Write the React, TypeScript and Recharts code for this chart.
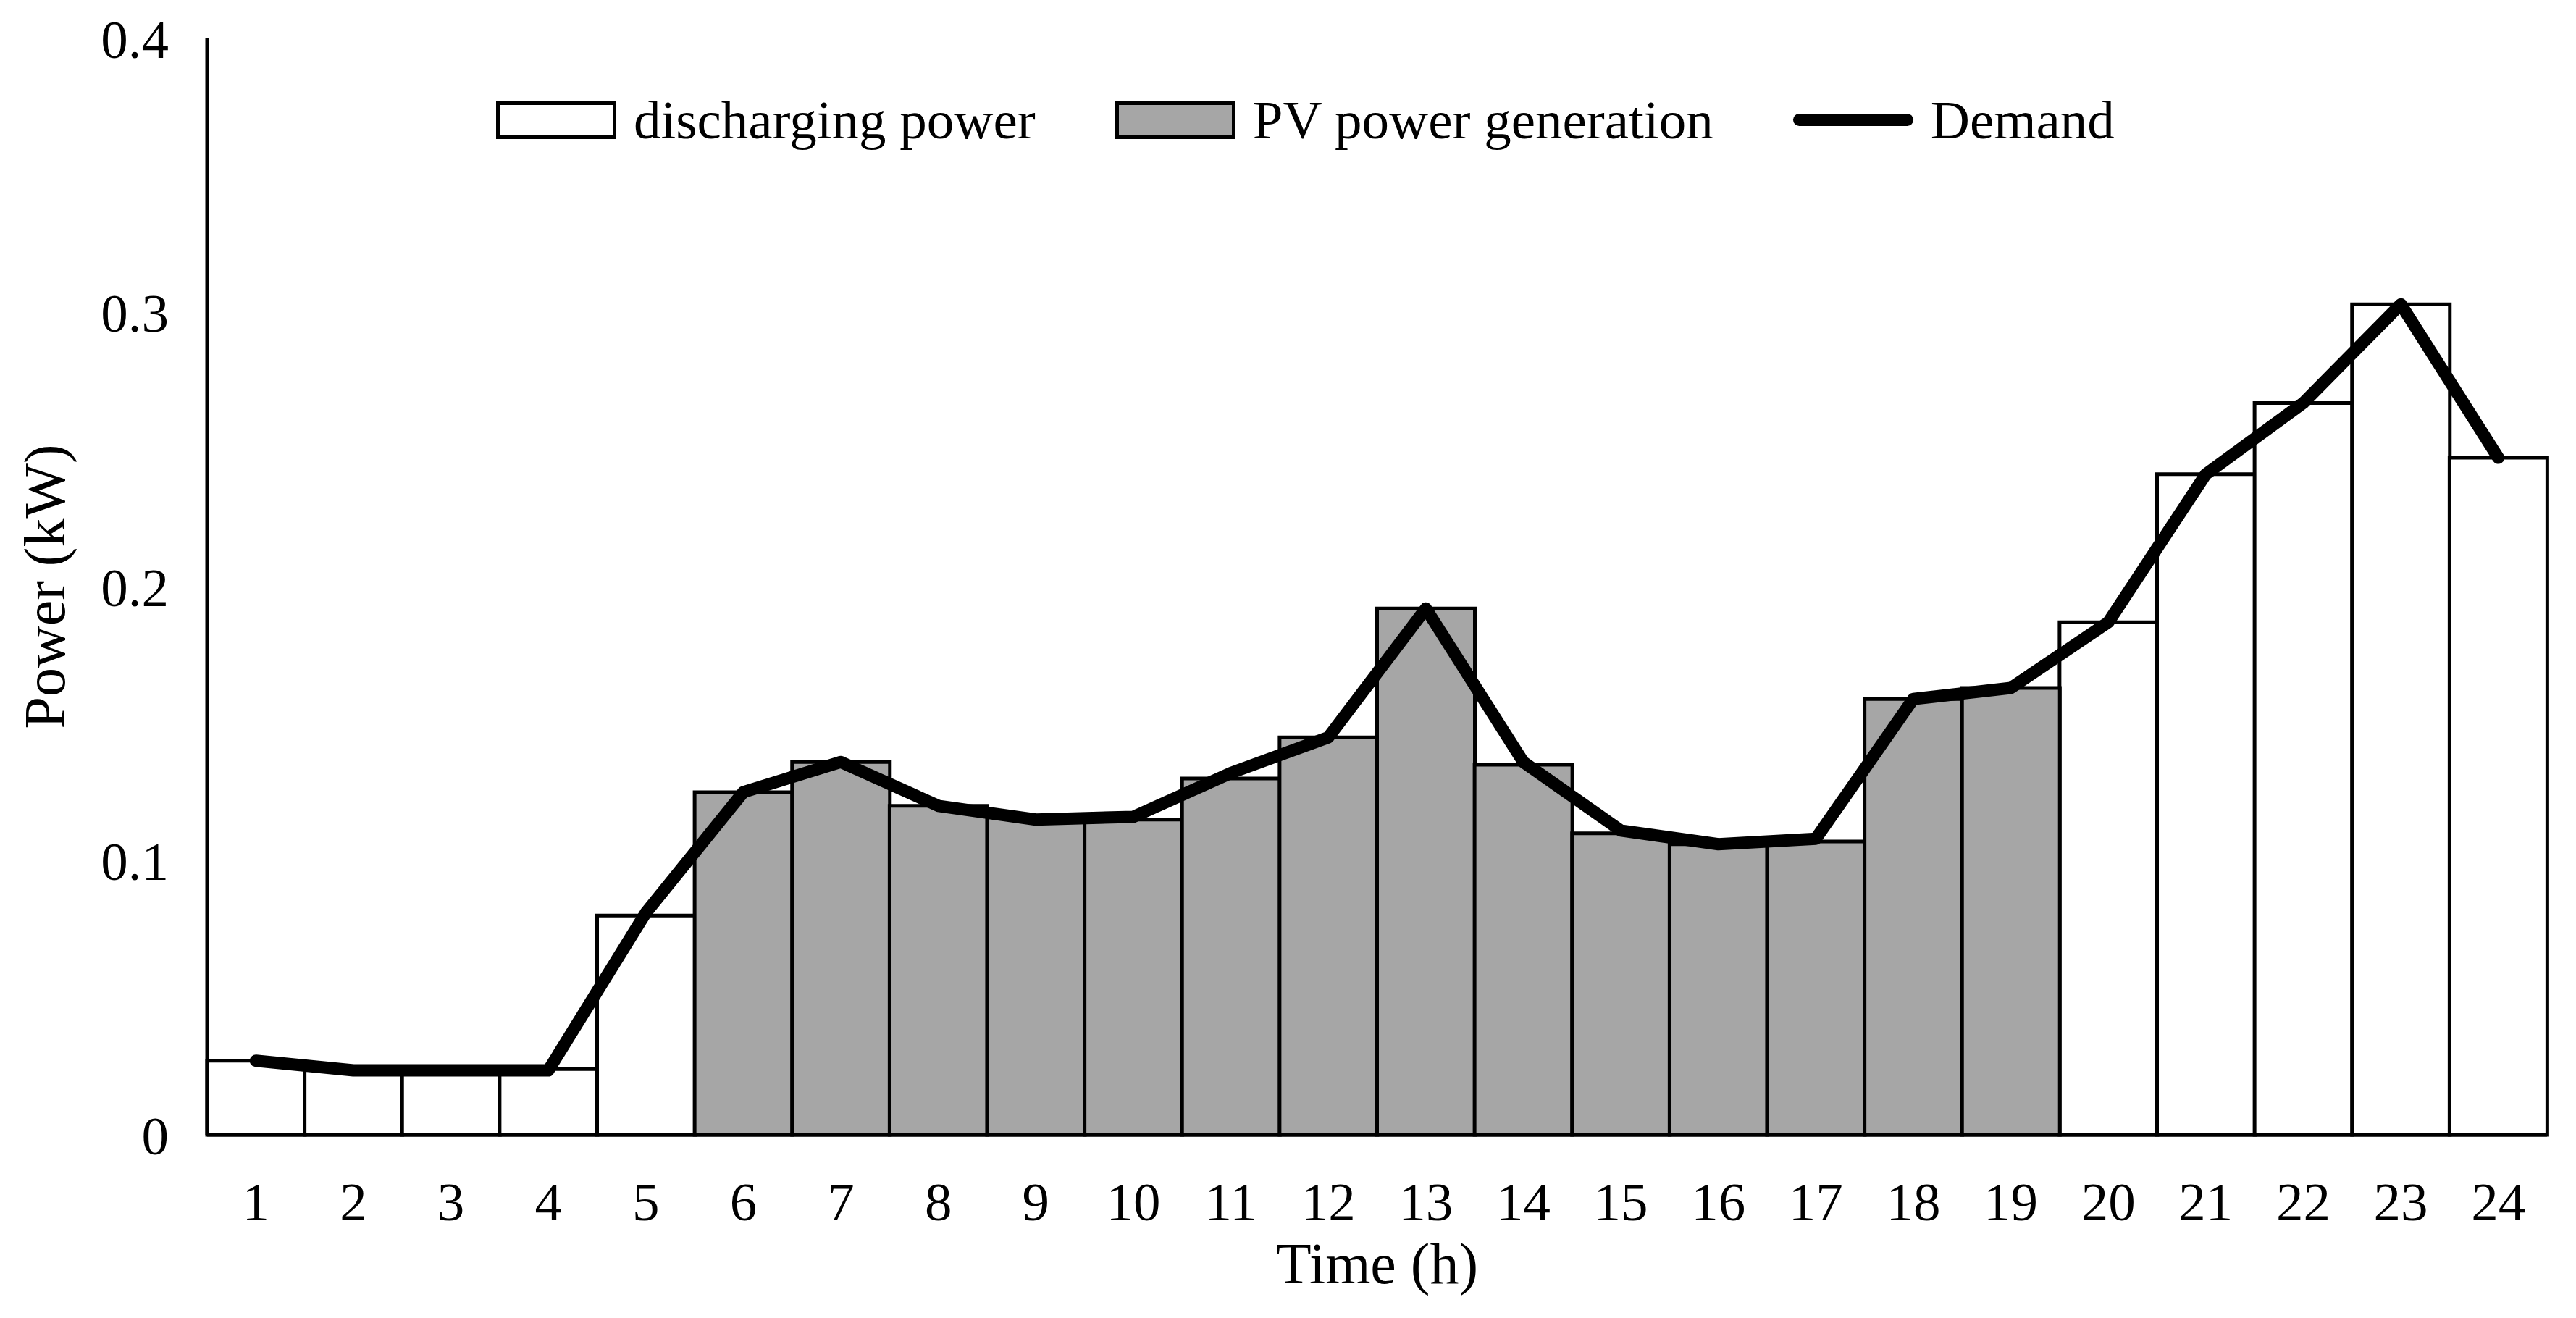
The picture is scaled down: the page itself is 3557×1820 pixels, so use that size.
import { ComposedChart, Bar, Line, XAxis, YAxis, Legend } from "recharts";

const FONT = "'Liberation Serif', 'Times New Roman', serif";

const hours = [
  "1", "2", "3", "4", "5", "6", "7", "8", "9", "10", "11", "12",
  "13", "14", "15", "16", "17", "18", "19", "20", "21", "22", "23", "24",
];

// kW
const discharging = [
  0.027, 0.024, 0.024, 0.024, 0.080, 0, 0, 0, 0, 0, 0, 0,
  0, 0, 0, 0, 0, 0, 0, 0.187, 0.241, 0.267, 0.303, 0.247,
];
const pvGeneration = [
  0, 0, 0, 0, 0, 0.125, 0.136, 0.120, 0.116, 0.115, 0.130, 0.145,
  0.192, 0.135, 0.110, 0.106, 0.107, 0.159, 0.163, 0, 0, 0, 0, 0,
];
const demand = [
  0.027, 0.0235, 0.0235, 0.0235, 0.081, 0.125, 0.136, 0.120, 0.115, 0.116, 0.132, 0.145,
  0.192, 0.136, 0.111, 0.106, 0.108, 0.159, 0.163, 0.187, 0.241, 0.267, 0.303, 0.247,
];

const yTicks = [0, 0.1, 0.2, 0.3, 0.4];
const legendOrder = ["discharging power", "PV power generation", "Demand"];

const data = hours.map((hour, i) => ({
  hour,
  discharging: discharging[i],
  pv: pvGeneration[i],
  demand: demand[i],
}));

function LegendRow({ payload }: any) {
  const items = [...(payload || [])].sort(
    (a: any, b: any) => legendOrder.indexOf(a.value) - legendOrder.indexOf(b.value)
  );
  return (
    <div style={{ display: "flex", alignItems: "center", fontFamily: FONT, fontSize: 75, lineHeight: 1, color: "#000" }}>
      {items.map((entry: any, i: number) => (
        <div
          key={entry.value}
          style={{ display: "flex", alignItems: "center", marginRight: i < items.length - 1 ? 110 : 0 }}
        >
          {entry.type === "line" ? (
            <span style={{ display: "inline-block", width: 166, height: 17, borderRadius: 9, background: "#000" }} />
          ) : (
            <span
              style={{
                display: "inline-block",
                width: 166,
                height: 52,
                boxSizing: "border-box",
                border: "5px solid #000",
                background: entry.payload?.fill ?? entry.color,
              }}
            />
          )}
          <span style={{ marginLeft: 24, whiteSpace: "nowrap" }}>{entry.value}</span>
        </div>
      ))}
    </div>
  );
}

function YTitle({ viewBox }: any) {
  const cy = viewBox.y + viewBox.height / 2;
  return (
    <text
      x={54}
      y={cy}
      transform={`rotate(-90, 54, ${cy})`}
      textAnchor="middle"
      dominantBaseline="central"
      fontFamily={FONT}
      fontSize={80}
      fill="#000"
    >
      Power (kW)
    </text>
  );
}

export default function App() {
  return (
    <div style={{ width: 3541, height: 1804, background: "#fff" }}>
      <ComposedChart
        width={3541}
        height={1804}
        data={data}
        margin={{ top: 45, right: 32, bottom: 15, left: 0 }}
        barCategoryGap={0}
        barGap={0}
      >
        <XAxis
          dataKey="hour"
          height={230}
          interval={0}
          tickLine={false}
          tickSize={0}
          tickMargin={65}
          axisLine={{ stroke: "#000", strokeWidth: 5 }}
          tick={{ fill: "#000", fontSize: 75, fontFamily: FONT }}
          label={{ value: "Time (h)", position: "insideBottom", offset: 25, fill: "#000", fontSize: 80, fontFamily: FONT }}
        />
        <YAxis
          width={278}
          domain={[0, 0.4]}
          ticks={yTicks}
          tickLine={false}
          tickSize={0}
          tickMargin={53}
          axisLine={{ stroke: "#000", strokeWidth: 5 }}
          tick={{ fill: "#000", fontSize: 75, fontFamily: FONT }}
          label={<YTitle />}
        />
        <Legend
          layout="horizontal"
          verticalAlign="middle"
          align="center"
          wrapperStyle={{ left: 677, top: 120, width: "auto" }}
          content={<LegendRow />}
        />
        <Bar dataKey="discharging" name="discharging power" stackId="p" fill="#ffffff" stroke="#000" strokeWidth={5} isAnimationActive={false} />
        <Bar dataKey="pv" name="PV power generation" stackId="p" fill="#a6a6a6" stroke="#000" strokeWidth={5} isAnimationActive={false} />
        <Line
          dataKey="demand"
          name="Demand"
          type="linear"
          stroke="#000"
          strokeWidth={17}
          strokeLinecap="round"
          strokeLinejoin="round"
          dot={false}
          activeDot={false}
          isAnimationActive={false}
        />
      </ComposedChart>
    </div>
  );
}
